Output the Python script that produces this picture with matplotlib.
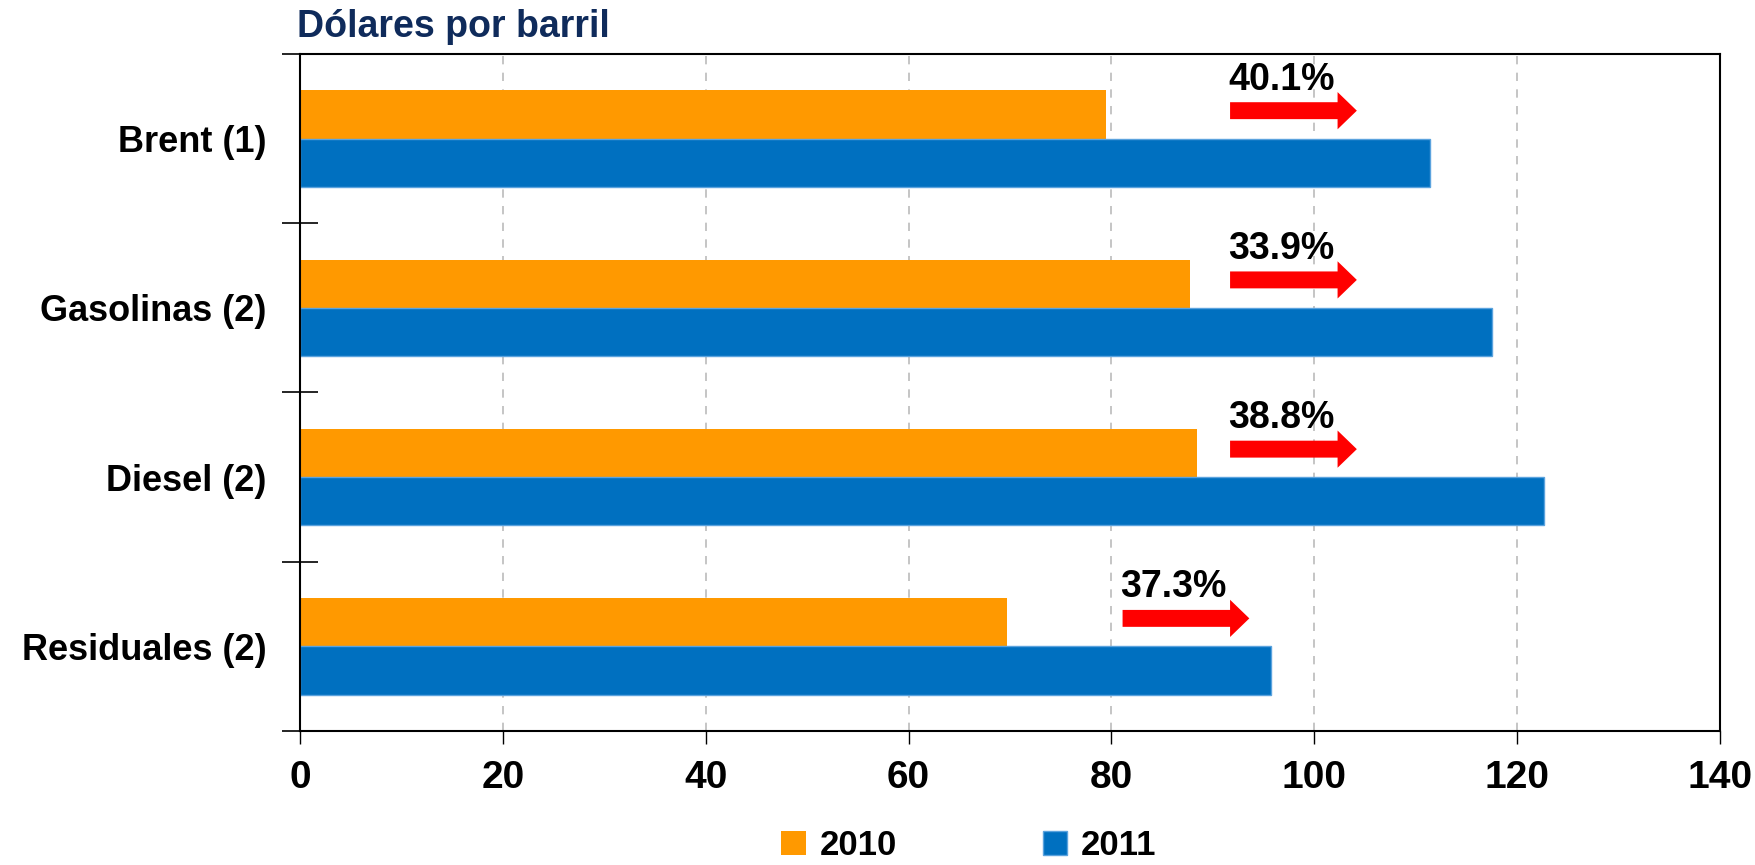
import matplotlib.pyplot as plt
import matplotlib.patches as mpatches
import numpy as np

plt.rcParams['font.family'] = ['Liberation Sans', 'DejaVu Sans']
plt.rcParams['font.weight'] = 'bold'

categories = ['Brent (1)', 'Gasolinas (2)', 'Diesel (2)', 'Residuales (2)']
values_2010 = [79.5, 87.7, 88.4, 69.7]
values_2011 = [111.4, 117.5, 122.7, 95.7]
growth_labels = ['40.1%', '33.9%', '38.8%', '37.3%']
arrow_start = [91.7, 91.7, 91.7, 81.1]

c2010 = '#FF9900'
c2011 = '#0070C0'

fig = plt.figure(figsize=(17.55, 8.65), dpi=100)
ax = fig.add_axes([0.171, 0.155, 0.809, 0.7826])

y = np.arange(len(categories))
h = 0.285
ax.barh(y - h / 2, values_2010, height=h, color=c2010, label='2010')
ax.barh(y + h / 2, values_2011, height=h, color=c2011, label='2011',
        edgecolor='#5BA3DE', linewidth=1)

# red arrows with growth rate 2010 -> 2011
for yi, lab, xs in zip(y, growth_labels, arrow_start):
    ax.add_patch(mpatches.FancyArrow(xs, yi - 0.165, 12.5, 0, width=0.10,
                                     head_width=0.22, head_length=1.9,
                                     length_includes_head=True,
                                     color='#FF0000', linewidth=0))
    ax.text(xs - 0.2, yi - 0.29, lab, fontsize=27, fontweight='bold',
            ha='left', va='baseline')

ax.set_xlim(0, 140)
ax.set_ylim(3.5, -0.5)
ax.set_xticks(range(0, 141, 20))
ax.set_yticks(y)
ax.set_yticklabels(categories)
ax.set_yticks(np.arange(-0.5, 3.6, 1), minor=True)
ax.tick_params(axis='y', which='major', length=0, pad=24, labelsize=26)
ax.tick_params(axis='y', which='minor', direction='inout', length=26, width=1.2)
ax.tick_params(axis='x', direction='out', length=9, width=1, pad=12,
               labelsize=28)

ax.grid(axis='x', linestyle=(0, (5, 5)), color='#BBBBBB', linewidth=1.2)
ax.set_axisbelow(True)
for s in ax.spines.values():
    s.set_color('black')
    s.set_linewidth(1.5)

fig.text(0.169, 0.957, 'Dólares por barril', fontsize=27, fontweight='bold',
         color='#0F2B5B', ha='left', va='baseline')

fig.legend(loc='center', bbox_to_anchor=(0.552, 0.022), ncol=2,
           frameon=False, fontsize=25, handlelength=0.7, handleheight=0.7,
           handletextpad=0.4, columnspacing=4.2)

fig.savefig('out.png', dpi=100)
